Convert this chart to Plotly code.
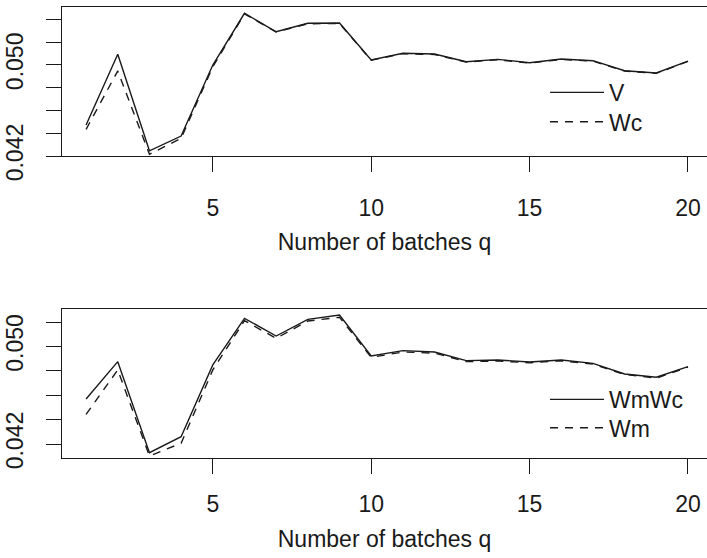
import plotly.graph_objects as go

# ---- data ----
q = list(range(1, 21))

V = [0.04472, 0.05092, 0.04246, 0.04375, 0.04998, 0.05452, 0.05290, 0.05364, 0.05367, 0.05042,
     0.05101, 0.05095, 0.05027, 0.05048, 0.05018, 0.05051, 0.05036, 0.04948, 0.04928, 0.05033]
Wc = [0.04434, 0.04946, 0.04215, 0.04355, 0.04983, 0.05446, 0.05288, 0.05360, 0.05362, 0.05040,
      0.05098, 0.05090, 0.05024, 0.05044, 0.05015, 0.05047, 0.05032, 0.04945, 0.04925, 0.05030]

WmWc = [0.04569, 0.04875, 0.04129, 0.04260, 0.04848, 0.05230, 0.05085, 0.05222, 0.05257, 0.04921,
        0.04965, 0.04954, 0.04883, 0.04889, 0.04872, 0.04889, 0.04861, 0.04774, 0.04747, 0.04834]
Wm = [0.04443, 0.04807, 0.04102, 0.04206, 0.04807, 0.05211, 0.05066, 0.05208, 0.05239, 0.04910,
      0.04954, 0.04945, 0.04875, 0.04880, 0.04866, 0.04882, 0.04855, 0.04770, 0.04740, 0.04830]

x_ticks = [5, 10, 15, 20]
y_ticks_top = [0.042, 0.044, 0.046, 0.048, 0.050, 0.052, 0.054]
y_text_top = ["0.042", "", "", "", "0.050", "", ""]
y_ticks_bot = [0.042, 0.044, 0.046, 0.048, 0.050, 0.052]
y_text_bot = ["0.042", "", "", "", "0.050", ""]
x_title = "Number of batches q"

FONT = "Liberation Sans, Arial, Helvetica, sans-serif"
FS = 23
INK = "#1a1a1a"
H = 558.0
W_PLOT = 645.0
L_MARGIN = 62.0

fig = go.Figure()
fig.add_trace(go.Scatter(x=q, y=V, mode="lines", name="V",
                         line=dict(color=INK, width=1.4), xaxis="x", yaxis="y", legend="legend"))
fig.add_trace(go.Scatter(x=q, y=Wc, mode="lines", name="Wc",
                         line=dict(color=INK, width=1.4, dash="8px,7px"), xaxis="x", yaxis="y", legend="legend2"))
fig.add_trace(go.Scatter(x=q, y=WmWc, mode="lines", name="WmWc",
                         line=dict(color=INK, width=1.4), xaxis="x2", yaxis="y2", legend="legend3"))
fig.add_trace(go.Scatter(x=q, y=Wm, mode="lines", name="Wm",
                         line=dict(color=INK, width=1.4, dash="8px,7px"), xaxis="x2", yaxis="y2", legend="legend4"))


def xaxis_style(label_standoff):
    return dict(range=[0.24, 20.6], tickvals=x_ticks, ticks="outside", ticklen=15, tickwidth=1,
                tickcolor=INK, showline=True, linecolor=INK, linewidth=1.2, mirror=True,
                showgrid=False, zeroline=False, ticklabelstandoff=label_standoff, automargin=False,
                tickfont=dict(family=FONT, size=FS, color=INK),
                title=dict(text=x_title, font=dict(family=FONT, size=FS, color=INK), standoff=14))


ycommon = dict(ticks="outside", ticklen=15, tickwidth=1, tickcolor=INK, showline=True,
               linecolor=INK, linewidth=1.2, mirror=False, showgrid=False, zeroline=False,
               tickangle=-90, ticklabelstandoff=14, automargin=False,
               tickfont=dict(family=FONT, size=FS, color=INK))


def leg(center_px):
    top = center_px - 21.4
    return dict(x=(545 - L_MARGIN) / W_PLOT, y=(H - top) / H, xanchor="left", yanchor="top",
                bgcolor="rgba(0,0,0,0)", borderwidth=0, itemwidth=54,
                font=dict(family=FONT, size=FS, color=INK))


fig.update_layout(
    template="none",
    width=707, height=558,
    margin=dict(l=62, r=0, t=0, b=0, autoexpand=False),
    paper_bgcolor="white", plot_bgcolor="white",
    font=dict(family=FONT, size=FS, color=INK),
    xaxis=dict(domain=[0, 1], anchor="y", **xaxis_style(16)),
    yaxis=dict(domain=[(H - 156) / H, (H - 7) / H], anchor="x",
               range=[0.042, 0.05507], tickvals=y_ticks_top, ticktext=y_text_top, **ycommon),
    xaxis2=dict(domain=[0, 1], anchor="y2", **xaxis_style(10)),
    yaxis2=dict(domain=[(H - 458.3) / H, (H - 309.3) / H], anchor="x2",
                range=[0.040828, 0.053041], tickvals=y_ticks_bot, ticktext=y_text_bot, **ycommon),
    legend=leg(92.3),
    legend2=leg(121.7),
    legend3=leg(399.3),
    legend4=leg(427.7),
    showlegend=True,
)

fig.write_html("out.html")
